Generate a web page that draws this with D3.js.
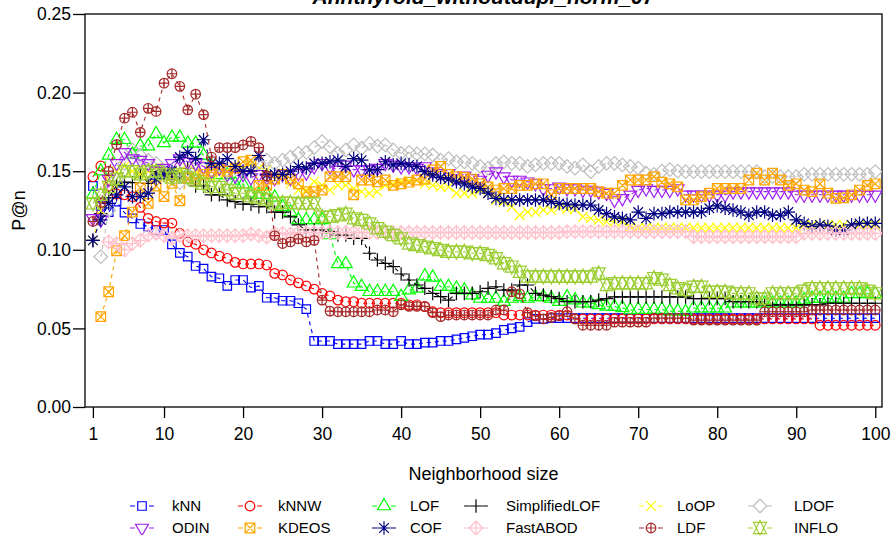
<!DOCTYPE html>
<html>
<head>
<meta charset="utf-8">
<script src="https://cdn.jsdelivr.net/npm/d3@7"></script>
<style>
  html, body { margin: 0; padding: 0; background: #ffffff; }
  svg { display: block; }
  text { font-family: "Liberation Sans", Arial, Helvetica, sans-serif; fill: #000; }
</style>
</head>
<body>
<svg id="chart" width="893" height="535"></svg>
<script>
// Neighbourhood sizes k = 1 .. 100
const neighborhood = d3.range(1, 101);

const titleText = "Annthyroid_withoutdupl_norm_07";
const xTicks = [1, 10, 20, 30, 40, 50, 60, 70, 80, 90, 100];
const yTicks = [0.00, 0.05, 0.10, 0.15, 0.20, 0.25];

// P@n per method, one value per k (null where the method is undefined)
const kNN = [
  0.1406, 0.128, 0.124, 0.1306, 0.1236, 0.120, 0.1164, 0.1147, 0.1126, 0.1126,
  0.1035, 0.098, 0.0956, 0.0897, 0.088, 0.0829, 0.0819, 0.077, 0.0808, 0.0808,
  0.076, 0.077, 0.0695, 0.0695, 0.0676, 0.0676, 0.066, 0.0623, 0.042, 0.042,
  0.042, 0.040, 0.040, 0.040, 0.040, 0.042, 0.042, 0.040, 0.040, 0.042,
  0.040, 0.040, 0.041, 0.041, 0.042, 0.042, 0.043, 0.044, 0.045, 0.046,
  0.046, 0.047, 0.049, 0.050, 0.051, 0.054, 0.056, 0.056, 0.0565, 0.0565,
  0.0565, 0.0565, 0.0565, 0.0565, 0.0565, 0.0565, 0.0565, 0.0565, 0.0565, 0.0565,
  0.0565, 0.0565, 0.0565, 0.0565, 0.0565, 0.0565, 0.0565, 0.0565, 0.0565, 0.0565,
  0.0565, 0.0565, 0.0565, 0.0565, 0.0565, 0.0565, 0.0565, 0.0565, 0.0565, 0.0565,
  0.0565, 0.0565, 0.0565, 0.0565, 0.0565, 0.0565, 0.0565, 0.0565, 0.0565, 0.0565
];
const kNNW = [
  0.1465, 0.1533, 0.1406, 0.1355, 0.135, 0.1338, 0.127, 0.120, 0.118, 0.117,
  0.117, 0.1105, 0.105, 0.1035, 0.100, 0.098, 0.096, 0.0946, 0.092, 0.091,
  0.091, 0.091, 0.0903, 0.085, 0.084, 0.0808, 0.079, 0.077, 0.075, 0.0723,
  0.0706, 0.068, 0.067, 0.067, 0.066, 0.066, 0.066, 0.066, 0.066, 0.066,
  0.065, 0.065, 0.0638, 0.0606, 0.060, 0.060, 0.060, 0.060, 0.060, 0.060,
  0.060, 0.060, 0.0585, 0.0585, 0.0585, 0.0585, 0.0585, 0.0585, 0.0585, 0.0585,
  0.0585, 0.056, 0.056, 0.056, 0.056, 0.056, 0.056, 0.056, 0.056, 0.056,
  0.056, 0.056, 0.056, 0.056, 0.056, 0.056, 0.056, 0.056, 0.056, 0.056,
  0.056, 0.056, 0.056, 0.056, 0.056, 0.056, 0.056, 0.056, 0.056, 0.056,
  0.056, 0.056, 0.052, 0.052, 0.052, 0.052, 0.052, 0.052, 0.052, 0.052
];
const LOF = [
  0.135, 0.150, 0.160, 0.170, 0.170, 0.1607, 0.166, 0.166, 0.1737, 0.168,
  0.1715, 0.1715, 0.1677, 0.1677, 0.160, 0.1533, 0.1476, 0.1476, 0.1418, 0.1418,
  0.136, 0.135, 0.135, 0.1334, 0.1274, 0.124, 0.119, 0.119, 0.119, 0.119,
  0.1094, 0.091, 0.091, 0.0787, 0.0765, 0.0733, 0.0733, 0.0733, 0.0733, 0.0702,
  0.0744, 0.0755, 0.0833, 0.0825, 0.0765, 0.0765, 0.0755, 0.0744, 0.0712, 0.069,
  0.069, 0.069, 0.067, 0.069, 0.070, 0.069, 0.070, 0.070, 0.069, 0.067,
  0.070, 0.068, 0.066, 0.066, 0.065, 0.064, 0.0638, 0.063, 0.0617, 0.062,
  0.062, 0.062, 0.062, 0.061, 0.061, 0.0606, 0.0628, 0.0628, 0.0628, 0.0628,
  0.0628, 0.066, 0.066, 0.066, 0.066, 0.066, 0.066, 0.066, 0.066, 0.066,
  0.068, 0.069, 0.069, 0.069, 0.069, 0.069, 0.072, 0.072, 0.072, 0.072
];
const SimplifiedLOF = [
  0.106, 0.123, 0.133, 0.141, 0.143, 0.1427, 0.1487, 0.1423, 0.1497, 0.1487,
  0.1465, 0.1465, 0.1518, 0.1406, 0.1406, 0.135, 0.135, 0.1317, 0.1306, 0.1291,
  0.129, 0.1274, 0.1274, 0.124, 0.124, 0.121, 0.1158, 0.1126, 0.1126, 0.1126,
  0.1115, 0.1094, 0.1094, 0.1073, 0.1073, 0.0978, 0.0935, 0.0914, 0.0893, 0.0846,
  0.0808, 0.0776, 0.0755, 0.0723, 0.0702, 0.068, 0.0723, 0.0723, 0.0723, 0.0733,
  0.0755, 0.0765, 0.0744, 0.0744, 0.0776, 0.0776, 0.0723, 0.0712, 0.0702, 0.069,
  0.067, 0.067, 0.067, 0.067, 0.068, 0.069, 0.070, 0.070, 0.070, 0.070,
  0.070, 0.070, 0.070, 0.070, 0.070, 0.070, 0.069, 0.069, 0.069, 0.069,
  0.069, 0.067, 0.067, 0.067, 0.067, 0.065, 0.065, 0.065, 0.065, 0.065,
  0.065, 0.065, 0.065, 0.066, 0.066, 0.066, 0.066, 0.066, 0.066, 0.066
];
const LoOP = [
  0.106, 0.125, 0.145, 0.150, 0.153, 0.150, 0.148, 0.150, 0.152, 0.150,
  0.148, 0.150, 0.152, 0.150, 0.148, 0.146, 0.148, 0.150, 0.153, 0.152,
  0.155, 0.152, 0.1508, 0.148, 0.146, 0.142, 0.138, 0.138, 0.1433, 0.141,
  0.138, 0.141, 0.141, 0.139, 0.137, 0.136, 0.137, 0.141, 0.142, 0.1433,
  0.144, 0.144, 0.142, 0.141, 0.140, 0.140, 0.136, 0.136, 0.136, 0.138,
  0.136, 0.1317, 0.1306, 0.1274, 0.122, 0.124, 0.124, 0.1253, 0.1253, 0.127,
  0.126, 0.126, 0.121, 0.120, 0.119, 0.118, 0.118, 0.118, 0.1147, 0.114,
  0.114, 0.114, 0.114, 0.114, 0.114, 0.114, 0.114, 0.114, 0.114, 0.114,
  0.114, 0.114, 0.114, 0.114, 0.114, 0.114, 0.114, 0.114, 0.114, 0.114,
  0.1158, 0.1158, 0.1158, 0.1158, 0.1158, 0.1158, 0.1158, 0.1158, 0.1158, 0.1158
];
const LDOF = [
  null, 0.0956, 0.125, 0.145, 0.155, 0.1635, 0.160, 0.157, 0.155, 0.150,
  0.148, 0.1427, 0.148, 0.150, 0.152, 0.150, 0.152, 0.150, 0.148, 0.150,
  0.152, 0.155, 0.157, 0.155, 0.157, 0.159, 0.1614, 0.162, 0.165, 0.1688,
  0.1656, 0.1614, 0.1635, 0.1667, 0.1646, 0.1677, 0.166, 0.1667, 0.1635, 0.1614,
  0.162, 0.161, 0.161, 0.1603, 0.157, 0.158, 0.156, 0.156, 0.155, 0.153,
  0.152, 0.155, 0.156, 0.155, 0.155, 0.153, 0.154, 0.155, 0.155, 0.155,
  0.153, 0.152, 0.154, 0.1497, 0.153, 0.155, 0.155, 0.154, 0.153, 0.152,
  0.1487, 0.148, 0.150, 0.151, 0.150, 0.1497, 0.1497, 0.1497, 0.1497, 0.1497,
  0.1497, 0.1497, 0.1497, 0.1497, 0.1497, 0.1465, 0.1465, 0.1465, 0.1465, 0.1465,
  0.148, 0.148, 0.148, 0.148, 0.148, 0.148, 0.148, 0.148, 0.148, 0.1497
];
const ODIN = [
  0.120, 0.119, 0.145, 0.155, 0.162, 0.158, 0.157, 0.155, 0.150, 0.152,
  0.155, 0.158, 0.156, 0.155, 0.153, 0.150, 0.152, 0.148, 0.147, 0.148,
  0.146, 0.148, 0.146, 0.1455, 0.148, 0.1455, 0.1487, 0.149, 0.153, 0.155,
  0.153, 0.1508, 0.154, 0.151, 0.151, 0.151, 0.152, 0.155, 0.154, 0.153,
  0.153, 0.152, 0.153, 0.1497, 0.1487, 0.1487, 0.1455, 0.147, 0.1455, 0.1444,
  0.1476, 0.1497, 0.1465, 0.1444, 0.1444, 0.1433, 0.1422, 0.139, 0.139, 0.140,
  0.139, 0.139, 0.138, 0.138, 0.137, 0.136, 0.1317, 0.1327, 0.135, 0.138,
  0.139, 0.138, 0.138, 0.138, 0.139, 0.135, 0.135, 0.135, 0.135, 0.135,
  0.135, 0.137, 0.137, 0.137, 0.137, 0.137, 0.137, 0.137, 0.137, 0.135,
  0.135, 0.135, 0.135, 0.135, 0.135, 0.135, 0.135, 0.135, 0.135, 0.135
];
const KDEOS = [
  null, 0.0575, 0.0733, 0.0994, 0.109, 0.124, 0.1395, 0.1295, 0.1406, 0.1338,
  0.1423, 0.1312, 0.1455, 0.145, 0.148, 0.150, 0.152, 0.150, 0.152, 0.156,
  0.157, 0.141, 0.141, 0.145, 0.148, 0.145, 0.142, 0.137, 0.137, 0.138,
  0.1465, 0.1465, 0.1465, 0.135, 0.1444, 0.1444, 0.1433, 0.1444, 0.141, 0.142,
  0.143, 0.1444, 0.145, 0.1508, 0.153, 0.148, 0.1465, 0.146, 0.145, 0.142,
  0.140, 0.138, 0.139, 0.139, 0.141, 0.141, 0.142, 0.142, 0.135, 0.139,
  0.139, 0.139, 0.139, 0.139, 0.137, 0.136, 0.136, 0.141, 0.1444, 0.1444,
  0.1444, 0.1465, 0.143, 0.142, 0.140, 0.1317, 0.1317, 0.1338, 0.136, 0.139,
  0.139, 0.139, 0.139, 0.1444, 0.1487, 0.1444, 0.1487, 0.1444, 0.141, 0.142,
  0.138, 0.137, 0.142, 0.136, 0.1327, 0.133, 0.135, 0.138, 0.141, 0.142
];
const COF = [
  0.106, 0.119, 0.1295, 0.135, 0.140, 0.1338, 0.134, 0.136, 0.145, 0.148,
  0.150, 0.159, 0.162, 0.158, 0.170, 0.155, 0.155, 0.158, 0.153, 0.150,
  0.150, 0.160, 0.1476, 0.148, 0.148, 0.150, 0.153, 0.152, 0.155, 0.155,
  0.156, 0.157, 0.153, 0.158, 0.157, 0.1508, 0.151, 0.156, 0.154, 0.155,
  0.154, 0.153, 0.1497, 0.1476, 0.146, 0.145, 0.1433, 0.142, 0.140, 0.139,
  0.136, 0.1327, 0.1317, 0.1317, 0.1317, 0.1317, 0.1317, 0.1317, 0.1306, 0.1295,
  0.129, 0.1285, 0.1285, 0.1285, 0.1253, 0.123, 0.121, 0.120, 0.119, 0.124,
  0.120, 0.123, 0.123, 0.124, 0.124, 0.124, 0.124, 0.124, 0.1264, 0.128,
  0.1264, 0.1253, 0.124, 0.122, 0.124, 0.124, 0.122, 0.122, 0.124, 0.119,
  0.1168, 0.1147, 0.1158, 0.115, 0.1126, 0.1126, 0.1158, 0.1168, 0.1168, 0.1168
];
const FastABOD = [
  null, null, 0.105, 0.104, 0.100, 0.104, 0.106, 0.1094, 0.1105, 0.109,
  0.1073, 0.109, 0.109, 0.109, 0.109, 0.109, 0.109, 0.109, 0.109, 0.109,
  0.110, 0.109, 0.108, 0.1105, 0.1105, 0.110, 0.111, 0.111, 0.111, 0.111,
  0.111, 0.111, 0.111, 0.111, 0.111, 0.111, 0.111, 0.111, 0.111, 0.111,
  0.111, 0.111, 0.111, 0.111, 0.111, 0.111, 0.111, 0.111, 0.111, 0.111,
  0.111, 0.111, 0.111, 0.111, 0.111, 0.111, 0.111, 0.111, 0.111, 0.111,
  0.1115, 0.1115, 0.1115, 0.1115, 0.1115, 0.1115, 0.1115, 0.1115, 0.1115, 0.1115,
  0.1115, 0.1115, 0.1115, 0.1115, 0.1115, 0.1115, 0.1083, 0.1083, 0.1083, 0.1083,
  0.1083, 0.1083, 0.1083, 0.1083, 0.1083, 0.1083, 0.1083, 0.1083, 0.1083, 0.1083,
  0.1105, 0.1105, 0.1105, 0.1105, 0.1105, 0.1105, 0.1105, 0.1105, 0.1105, 0.1105
];
const LDF = [
  0.118, 0.130, 0.150, 0.167, 0.1837, 0.1875, 0.1747, 0.190, 0.188, 0.206,
  0.212, 0.204, 0.189, 0.199, 0.186, 0.159, 0.165, 0.165, 0.165, 0.1667,
  0.169, 0.165, 0.147, 0.109, 0.104, 0.105, 0.107, 0.105, 0.106, 0.068,
  0.061, 0.0606, 0.0606, 0.0606, 0.0606, 0.0606, 0.0617, 0.0617, 0.0606, 0.065,
  0.064, 0.064, 0.064, 0.060, 0.0575, 0.0585, 0.0585, 0.0585, 0.0585, 0.0585,
  0.0585, 0.0617, 0.0617, 0.0733, 0.072, 0.060, 0.058, 0.056, 0.057, 0.058,
  0.0606, 0.056, 0.052, 0.052, 0.052, 0.052, 0.054, 0.054, 0.054, 0.054,
  0.054, 0.0565, 0.0565, 0.0565, 0.0565, 0.0565, 0.0553, 0.0553, 0.0553, 0.0553,
  0.0553, 0.0553, 0.0553, 0.0553, 0.0553, 0.0606, 0.0606, 0.0606, 0.0606, 0.0606,
  0.0606, 0.0617, 0.0617, 0.0617, 0.0617, 0.0617, 0.0617, 0.0617, 0.0617, 0.0617
];
const INFLO = [
  0.1295, 0.135, 0.140, 0.145, 0.150, 0.150, 0.148, 0.150, 0.150, 0.148,
  0.146, 0.148, 0.146, 0.144, 0.142, 0.140, 0.140, 0.138, 0.136, 0.136,
  0.134, 0.133, 0.132, 0.1295, 0.130, 0.130, 0.1295, 0.1295, 0.1295, 0.121,
  0.121, 0.122, 0.123, 0.120, 0.119, 0.1168, 0.1137, 0.1115, 0.1094, 0.1073,
  0.104, 0.103, 0.102, 0.101, 0.0999, 0.0988, 0.0988, 0.0988, 0.0978, 0.0978,
  0.0967, 0.0946, 0.0914, 0.0893, 0.086, 0.083, 0.083, 0.083, 0.083, 0.083,
  0.083, 0.083, 0.083, 0.083, 0.085, 0.0776, 0.0787, 0.0787, 0.0787, 0.0787,
  0.0787, 0.082, 0.081, 0.0776, 0.0755, 0.0744, 0.0765, 0.0765, 0.0733, 0.0733,
  0.0733, 0.0723, 0.0723, 0.0723, 0.069, 0.069, 0.0723, 0.0723, 0.0723, 0.0723,
  0.074, 0.0755, 0.0755, 0.0755, 0.0755, 0.0755, 0.0755, 0.0755, 0.074, 0.0723
];

const methodNames = ["kNN", "kNNW", "LOF", "SimplifiedLOF", "LoOP", "LDOF",
                     "ODIN", "KDEOS", "COF", "FastABOD", "LDF", "INFLO"];
const methodValues = [kNN, kNNW, LOF, SimplifiedLOF, LoOP, LDOF,
                      ODIN, KDEOS, COF, FastABOD, LDF, INFLO];
const methodColors = ["#0000FF", "#FF0000", "#00FF00", "#000000", "#FFFF00", "#BEBEBE",
                      "#A020F0", "#FFA500", "#000080", "#FFC0CB", "#A52A2A", "#9ACD32"];
// plotting symbol per method, numbered like R's pch 0..11
const methodSymbols = [0, 1, 2, 3, 4, 5, 6, 7, 8, 9, 10, 11];

const svg = d3.select("#chart");
svg.append("rect").attr("width", 893).attr("height", 535).attr("fill", "#fff");

const plot = { left: 85, right: 882, top: 14, bottom: 407 };

const x = d3.scaleLinear().domain([0, 100.85]).range([plot.left, plot.right]);
const y = d3.scaleLinear().domain([0, 0.25]).range([plot.bottom, plot.top]);

// Outline of a plotting symbol centred on (0,0); R is the base radius
function symbolPath(pch, R) {
  const p = d3.path();
  const SQRC = 0.886226925;
  const TRC0 = Math.sqrt(4 * Math.PI / (3 * Math.sqrt(3)));
  const TRC1 = TRC0 * Math.sqrt(3) / 2;
  const TRC2 = TRC0 / 2;
  const s2 = Math.SQRT2;
  const circle = (r) => { p.moveTo(r, 0); p.arc(0, 0, r, 0, 2 * Math.PI); };
  const square = (h) => { p.rect(-h, -h, 2 * h, 2 * h); };
  const plus = (h) => { p.moveTo(-h, 0); p.lineTo(h, 0); p.moveTo(0, -h); p.lineTo(0, h); };
  const cross = (h) => { p.moveTo(-h, -h); p.lineTo(h, h); p.moveTo(-h, h); p.lineTo(h, -h); };
  const diamond = (h) => { p.moveTo(-h, 0); p.lineTo(0, -h); p.lineTo(h, 0); p.lineTo(0, h); p.closePath(); };
  const triUp = (r, xc, yc) => { p.moveTo(0, -r); p.lineTo(xc, yc); p.lineTo(-xc, yc); p.closePath(); };
  const triDown = (r, xc, yc) => { p.moveTo(0, r); p.lineTo(xc, -yc); p.lineTo(-xc, -yc); p.closePath(); };
  switch (pch) {
    case 0: square(R * SQRC); break;
    case 1: circle(R); break;
    case 2: triUp(TRC0 * R, TRC1 * R, TRC2 * R); break;
    case 3: plus(s2 * R); break;
    case 4: cross(R); break;
    case 5: diamond(s2 * R); break;
    case 6: triDown(TRC0 * R, TRC1 * R, TRC2 * R); break;
    case 7: square(R); cross(R); break;
    case 8: plus(s2 * R); cross(R); break;
    case 9: diamond(s2 * R); plus(s2 * R); break;
    case 10: circle(R); plus(R); break;
    case 11: {
      const r = TRC0 * R, yc = 0.5 * (TRC2 * R + r), xc = TRC1 * R;
      triUp(r, xc, yc); triDown(r, xc, yc); break;
    }
  }
  return p.toString();
}

const R = 4.8;

// Frame
svg.append("rect")
  .attr("x", plot.left).attr("y", plot.top)
  .attr("width", plot.right - plot.left).attr("height", plot.bottom - plot.top)
  .attr("fill", "none").attr("stroke", "#000").attr("stroke-width", 1.3);

// Axes
const xAxis = d3.axisBottom(x).tickValues(xTicks).tickSize(11).tickPadding(10).tickSizeOuter(0);
const yAxis = d3.axisLeft(y).tickValues(yTicks).tickFormat(d3.format(".2f"))
  .tickSize(12).tickPadding(2).tickSizeOuter(0);

const gx = svg.append("g").attr("transform", `translate(0,${plot.bottom})`).call(xAxis);
const gy = svg.append("g").attr("transform", `translate(${plot.left},0)`).call(yAxis);
[gx, gy].forEach(g => {
  g.select(".domain").remove();
  g.selectAll(".tick line").attr("stroke", "#000").attr("stroke-width", 1.3);
  g.selectAll(".tick text")
    .style("font-family", '"Liberation Sans", Arial, sans-serif')
    .style("font-size", "17.5px").attr("fill", "#000");
});

// Series: dashed connecting line, then hollow symbols
const clip = svg.append("clipPath").attr("id", "plotclip").append("rect")
  .attr("x", plot.left).attr("y", plot.top)
  .attr("width", plot.right - plot.left).attr("height", plot.bottom - plot.top);

const seriesLayer = svg.append("g").attr("clip-path", "url(#plotclip)");

methodNames.forEach((name, i) => {
  const pts = neighborhood.map((k, j) => ({ k, v: methodValues[i][j] }));
  const line = d3.line().defined(d => d.v !== null).x(d => x(d.k)).y(d => y(d.v));
  const g = seriesLayer.append("g").attr("class", "series");
  g.append("path").datum(pts)
    .attr("d", line)
    .attr("fill", "none").attr("stroke", methodColors[i])
    .attr("stroke-width", 1.1).attr("stroke-dasharray", "4,4");
  const shape = symbolPath(methodSymbols[i], R);
  g.selectAll("path.pt").data(pts.filter(d => d.v !== null)).join("path")
    .attr("class", "pt")
    .attr("transform", d => `translate(${x(d.k)},${y(d.v)})`)
    .attr("d", shape)
    .attr("fill", "none").attr("stroke", methodColors[i]).attr("stroke-width", 1.2);
});

// Titles (the main title sits at the very top edge, partly above the page)
svg.append("text")
  .attr("x", (plot.left + plot.right) / 2).attr("y", 4)
  .attr("text-anchor", "middle")
  .style("font-size", "21px").style("font-weight", "bold").style("font-style", "italic")
  .text(titleText);

svg.append("text")
  .attr("x", (plot.left + plot.right) / 2).attr("y", 480)
  .attr("text-anchor", "middle").style("font-size", "18px")
  .text("Neighborhood size");

svg.append("text")
  .attr("transform", `translate(25,${(plot.top + plot.bottom) / 2}) rotate(-90)`)
  .attr("text-anchor", "middle").style("font-size", "18px")
  .text("P@n");

// Legend: two rows of six entries
const legendSymbolX = [142, 250, 384, 476, 651, 760];
const legendTextX = [172, 278, 410, 506, 677, 794];
const legendRowY = [506, 528];
const legend = svg.append("g");
methodNames.forEach((name, n) => {
  const col = n % 6, row = Math.floor(n / 6);
  const cx = legendSymbolX[col], cy = legendRowY[row];
  const item = legend.append("g");
  item.append("line")
    .attr("x1", cx - 12).attr("x2", cx + 12).attr("y1", cy).attr("y2", cy)
    .attr("stroke", methodColors[n]).attr("stroke-width", 1.1)
    .attr("stroke-dasharray", "5,14");
  item.append("path")
    .attr("transform", `translate(${cx},${cy})`)
    .attr("d", symbolPath(methodSymbols[n], R))
    .attr("fill", "none").attr("stroke", methodColors[n]).attr("stroke-width", 1.2);
  item.append("text")
    .attr("x", legendTextX[col]).attr("y", cy).attr("dy", "0.35em")
    .style("font-size", "15px")
    .text(name);
});
</script>
</body>
</html>
